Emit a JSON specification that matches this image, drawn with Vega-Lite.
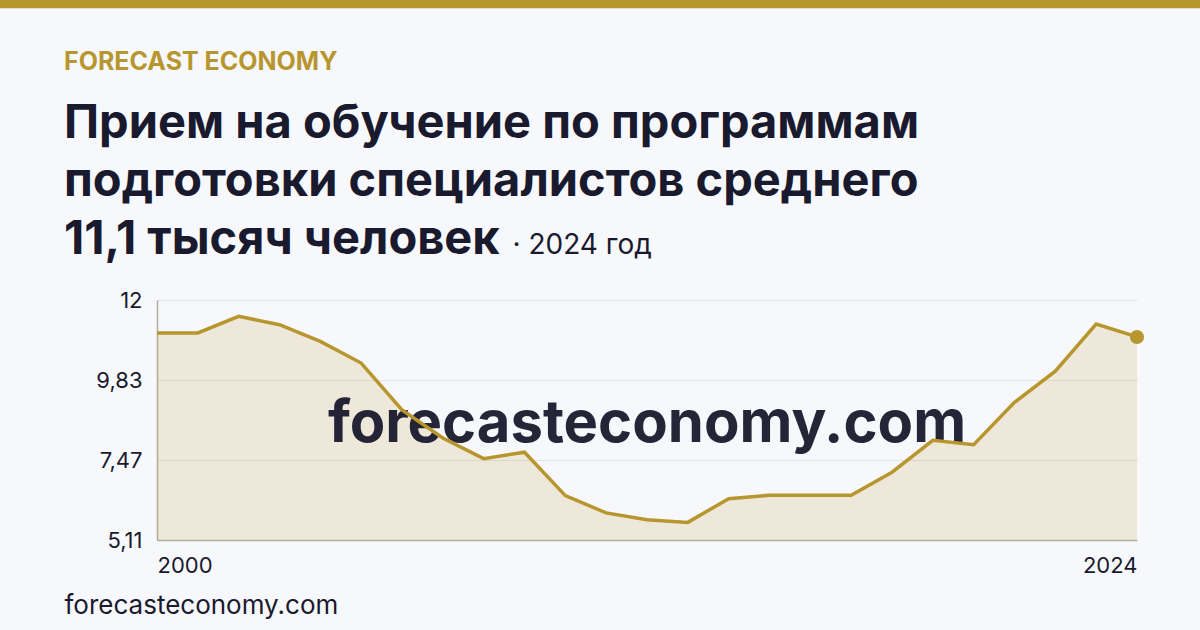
{
  "$schema": "https://vega.github.io/schema/vega-lite/v6.json",
  "autosize": {"type": "none"},
  "width": 980,
  "height": 240,
  "padding": {"left": 157, "top": 300, "right": 63, "bottom": 90},
  "background": "#f7f8fc",
  "title": {
    "text": "FORECAST ECONOMY",
    "subtitle": ["Прием на обучение по программам", "подготовки специалистов среднего", "11,1 тысяч человек"],
    "anchor": "start",
    "frame": "group",
    "dx": -93,
    "dy": 263,
    "offset": 0,
    "font": "Inter",
    "fontSize": 25,
    "fontWeight": 700,
    "color": "#b8962e",
    "subtitleFont": "Inter",
    "subtitleFontSize": 47,
    "subtitleFontWeight": 700,
    "subtitleColor": "#1a1a2e",
    "subtitleLineHeight": 58,
    "subtitlePadding": 26
  },
  "data": {
    "values": [
      {"year": 2000, "value": 11.22},
      {"year": 2001, "value": 11.22},
      {"year": 2002, "value": 11.71},
      {"year": 2003, "value": 11.46},
      {"year": 2004, "value": 10.97},
      {"year": 2005, "value": 10.33},
      {"year": 2006, "value": 8.95},
      {"year": 2007, "value": 8.12},
      {"year": 2008, "value": 7.51},
      {"year": 2009, "value": 7.7},
      {"year": 2010, "value": 6.42},
      {"year": 2011, "value": 5.91},
      {"year": 2012, "value": 5.71},
      {"year": 2013, "value": 5.63},
      {"year": 2014, "value": 6.33},
      {"year": 2015, "value": 6.43},
      {"year": 2016, "value": 6.43},
      {"year": 2017, "value": 6.43},
      {"year": 2018, "value": 7.11},
      {"year": 2019, "value": 8.05},
      {"year": 2020, "value": 7.92},
      {"year": 2021, "value": 9.17},
      {"year": 2022, "value": 10.09},
      {"year": 2023, "value": 11.48},
      {"year": 2024, "value": 11.1}
    ]
  },
  "layer": [
    {
      "mark": {"type": "area", "color": "#b8962e", "opacity": 0.16},
      "encoding": {
        "x": {
          "field": "year",
          "type": "quantitative",
          "scale": {"domain": [2000, 2024], "nice": false, "zero": false},
          "axis": {
            "values": [2000, 2024],
            "format": "d",
            "labelFlush": true,
            "grid": false,
            "ticks": false,
            "domainColor": "#b3aea4",
            "domainWidth": 1.5,
            "labelPadding": 15,
            "title": "forecasteconomy.com",
            "titleX": -93,
            "titleY": 73,
            "titleAlign": "left",
            "titleBaseline": "alphabetic",
            "titleFont": "Inter",
            "titleFontSize": 26,
            "titleFontWeight": 400,
            "titleColor": "#1a1a2e"
          }
        },
        "y": {
          "field": "value",
          "type": "quantitative",
          "scale": {"domain": [5.11, 12.19], "nice": false, "zero": false},
          "axis": {
            "values": [5.11, 7.47, 9.83, 12.19],
            "labelExpr": "datum.value > 12 ? '12' : replace(format(datum.value, '.2f'), '.', ',')",
            "grid": true,
            "gridColor": "#e3e3e8",
            "ticks": false,
            "domainColor": "#b3aea4",
            "domainWidth": 1.5,
            "labelPadding": 15,
            "title": "· 2024 год",
            "titleAngle": 0,
            "titleX": 355,
            "titleY": -47,
            "titleAlign": "left",
            "titleBaseline": "alphabetic",
            "titleFont": "Inter",
            "titleFontSize": 28,
            "titleFontWeight": 400,
            "titleColor": "#1a1a2e"
          }
        },
        "y2": {"datum": 5.11}
      }
    },
    {
      "data": {"values": [{"label": "forecasteconomy.com"}]},
      "mark": {"type": "text", "font": "Inter", "fontSize": 58, "fontWeight": 700, "color": "#1a1a2e", "opacity": 0.95, "align": "center", "baseline": "alphabetic"},
      "encoding": {
        "x": {"datum": 2012, "type": "quantitative"},
        "y": {"datum": 8.0, "type": "quantitative"},
        "text": {"field": "label"}
      }
    },
    {
      "mark": {"type": "line", "color": "#b8962e", "strokeWidth": 3.5},
      "encoding": {
        "x": {"field": "year", "type": "quantitative"},
        "y": {"field": "value", "type": "quantitative"}
      }
    },
    {
      "transform": [{"filter": "datum.year == 2024"}],
      "mark": {"type": "point", "filled": true, "color": "#b8962e", "opacity": 1, "size": 200},
      "encoding": {
        "x": {"field": "year", "type": "quantitative"},
        "y": {"field": "value", "type": "quantitative"}
      }
    },
    {
      "data": {"values": [{"band": "top"}]},
      "mark": {"type": "rect", "color": "#b8962e"},
      "encoding": {
        "x": {"datum": 1996.1, "type": "quantitative"},
        "x2": {"datum": 2025.6},
        "y": {"datum": 21.05, "type": "quantitative"},
        "y2": {"datum": 20.8}
      }
    }
  ],
  "config": {
    "view": {"stroke": null},
    "axis": {"labelFont": "Inter", "labelFontSize": 22, "labelColor": "#1a1a2e"}
  }
}
